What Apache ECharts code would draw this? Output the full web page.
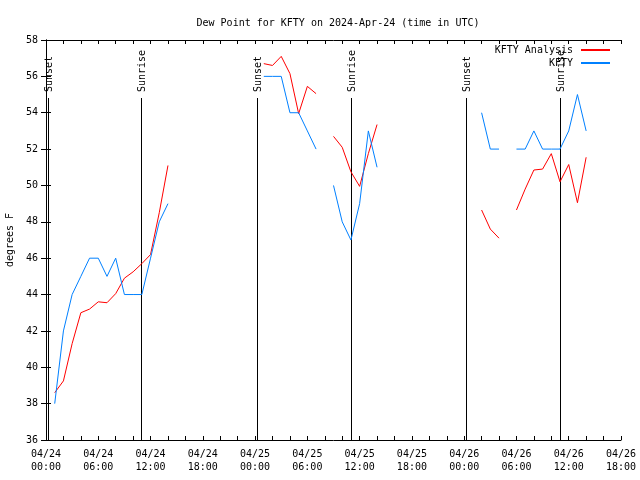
<!DOCTYPE html>
<html>
<head>
<meta charset="utf-8">
<script src="https://cdn.jsdelivr.net/npm/echarts@6/dist/echarts.min.js"></script>
<style>html,body{margin:0;padding:0;background:#fff}#c{width:640px;height:480px}</style>
</head>
<body>
<div id="c"></div>
<script>
// hours since 2024-04-24 00:00 UTC
var hours = [1,2,3,4,5,6,7,8,9,10,11,12,13,14,15,16,17,18,19,20,21,22,23,24,25,26,27,28,29,30,31,32,33,34,35,36,37,38,39,40,41,42,43,44,45,46,47,48,49,50,51,52,53,54,55,56,57,58,59,60,61,62];
var analysis = [38.6,39.25,41.3,43.0,43.2,43.6,43.55,44.05,44.9,45.25,45.7,46.2,48.5,51.1,
  null,null,null,null,null,null,null,null,null,null,
  56.7,56.6,57.1,56.15,53.95,55.45,55.05,
  null,
  52.7,52.1,50.75,49.95,51.75,53.35,
  null,null,null,null,null,null,null,null,null,null,null,
  48.65,47.6,47.1,
  null,
  48.65,49.8,50.85,50.9,51.75,50.2,51.15,49.05,51.55];
var observed = [38,42,44,45,46,46,45,46,44,44,44,46,48,49,
  null,null,null,null,null,null,null,null,null,null,
  56,56,56,54,54,53,52,
  null,
  50,48,47,49,53,51,
  null,null,null,null,null,null,null,null,null,null,null,
  54,52,52,
  null,
  52,52,53,52,52,52,53,55,53];
var xTickLabels = ['04/24\n00:00','04/24\n06:00','04/24\n12:00','04/24\n18:00','04/25\n00:00','04/25\n06:00','04/25\n12:00','04/25\n18:00','04/26\n00:00','04/26\n06:00','04/26\n12:00','04/26\n18:00'];
var sunTimes = [0.25, 10.95, 24.2, 35.0, 48.25, 59.05];
var sunLabels = ['Sunset','Sunrise','Sunset','Sunrise','Sunset','Sunrise'];
var seriesNames = ['KFTY Analysis','KFTY'];

var FONT = 'DejaVu Sans Mono';
function pairs(vals){ return hours.map(function(h,i){ return [h, vals[i] == null ? '-' : vals[i]]; }); }

var chart = echarts.init(document.getElementById('c'), null, {renderer:'canvas'});
var tickStyle = {show:true, inside:true, length:4, lineStyle:{color:'#000', width:1}};
var minorStyle = {show:true, splitNumber:3, length:4, lineStyle:{color:'#000', width:1}};
chart.setOption({
  animation:false,
  backgroundColor:'#fff',
  title:{text:'Dew Point for KFTY on 2024-Apr-24 (time in UTC)', left:333, top:13, textAlign:'center',
    textStyle:{fontFamily:FONT, fontSize:10, fontWeight:'normal', color:'#000'}},
  legend:{data:seriesNames, orient:'vertical', align:'right', right:30, top:44, padding:0, itemWidth:29, itemHeight:2, itemGap:1,
    icon:'rect', textStyle:{fontFamily:FONT, fontSize:10, color:'#000', lineHeight:12, padding:[0,3,0,0]}},
  grid:{left:46, right:19, top:40, bottom:40, containLabel:false, outerBoundsMode:'none'},
  xAxis:[
    {type:'value', min:0, max:66, interval:6, position:'bottom',
      axisLine:{lineStyle:{color:'#000'}}, axisTick:tickStyle, minorTick:minorStyle, splitLine:{show:false},
      axisLabel:{margin:8, fontFamily:FONT, fontSize:10, color:'#000', lineHeight:13,
        formatter:function(v){ return xTickLabels[Math.round(v/6)]; }}},
    {type:'value', min:0, max:66, interval:6, position:'top',
      axisLine:{lineStyle:{color:'#000'}}, axisTick:tickStyle, minorTick:minorStyle, splitLine:{show:false},
      axisLabel:{show:false}}
  ],
  yAxis:[
    {type:'value', min:36, max:58, interval:2, position:'left',
      name:'degrees F', nameLocation:'middle', nameGap:31, nameRotate:90,
      nameTextStyle:{fontFamily:FONT, fontSize:10, color:'#000'},
      axisLine:{show:true, lineStyle:{color:'#000'}}, axisTick:{show:true, inside:true, length:5, lineStyle:{color:'#000'}}, splitLine:{show:false},
      axisLabel:{margin:8, fontFamily:FONT, fontSize:10, color:'#000'}},
    {type:'value', min:36, max:58, interval:2, position:'right',
      axisLine:{show:true, lineStyle:{color:'#000'}}, axisTick:{show:true, inside:true, length:5, lineStyle:{color:'#000'}}, splitLine:{show:false},
      axisLabel:{show:false}}
  ],
  series:[
    {type:'custom', name:'sun', silent:true, clip:false, z:1,
      data: sunTimes.map(function(t){ return [t, 36]; }),
      renderItem:function(params, api){
        var t = api.value(0);
        var pb = api.coord([t, 36]);
        var pt = api.coord([t, 58]);
        var x = Math.round(pb[0]) + 0.5;
        return {type:'group', children:[
          {type:'line', shape:{x1:x, y1:pt[1]+58, x2:x, y2:pb[1]}, style:{stroke:'#000', lineWidth:1}},
          {type:'text', x:x+1, y:pt[1]+52, rotation:Math.PI/2,
            style:{text:sunLabels[params.dataIndex], font:'10px "DejaVu Sans Mono"', fill:'#000', align:'left', verticalAlign:'middle'}}
        ]};
      }},
    {type:'line', name:seriesNames[0], data:pairs(analysis), showSymbol:false, connectNulls:false, z:3,
      lineStyle:{color:'#ff0000', width:1}, itemStyle:{color:'#ff0000'}},
    {type:'line', name:seriesNames[1], data:pairs(observed), showSymbol:false, connectNulls:false, z:3,
      lineStyle:{color:'#0080ff', width:1}, itemStyle:{color:'#0080ff'}}
  ]
});
</script>
</body>
</html>
